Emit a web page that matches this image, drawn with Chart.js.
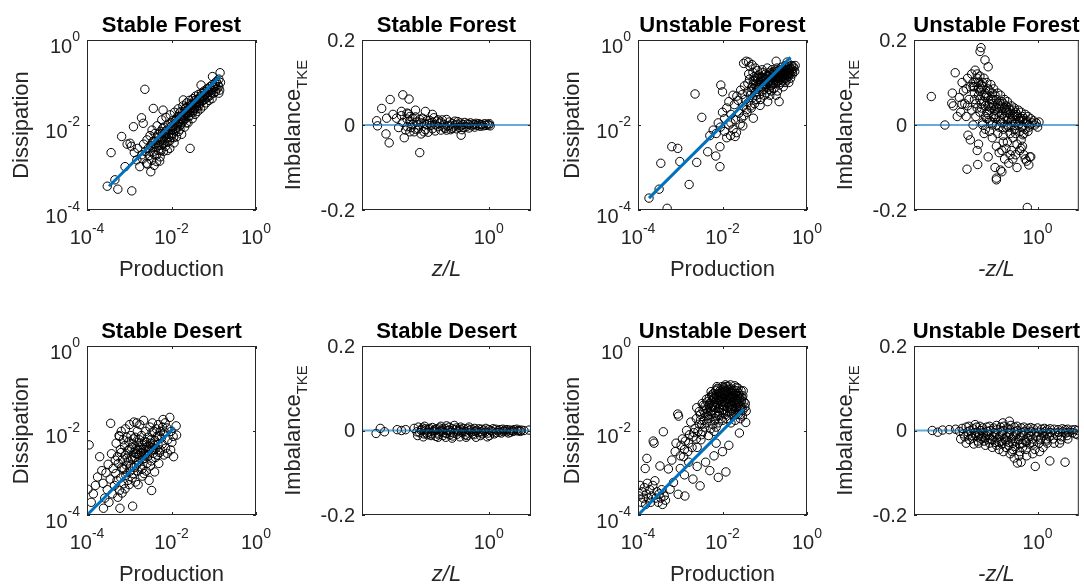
<!DOCTYPE html>
<html lang="en">
<head>
<meta charset="UTF-8">
<title>TKE production, dissipation and imbalance</title>
<script src="https://cdn.jsdelivr.net/npm/chart.js"></script>
<style>
  body { margin: 0; background: #fff; }
  #fig { position: relative; width: 1084px; height: 584px; overflow: hidden; background: #fff; }
  #fig canvas { position: absolute; left: 0; top: 0; }
</style>
</head>
<body>
<div id="fig"></div>
<script>
// ---- data (log10 values for the log axes) ----
const logTicks = [-4, -2, 0];          // 10^-4, 10^-2, 10^0
const prodRange = [-4, 0];             // log10 limits, Production / Dissipation
const zlRange = [-0.9, 0.3];           // log10 limits, z/L
const zlTicks = [0];                   // 10^0
const imbTicks = [-0.2, 0, 0.2];

// fit lines [log10 production, log10 dissipation] endpoints
const sfFit = [[-3.48, -3.44], [-0.85, -0.85]];
const ufFit = [[-3.74, -3.72], [-0.39, -0.41]];
const sdFit = [[-4.0, -4.0], [-1.93, -1.93]];
const udFit = [[-4.0, -4.0], [-1.5, -1.5]];

// Stable Forest: [log10 production, log10 dissipation]
const sfProdDiss = [
  [-3.52,-3.44],[-3.34,-3.29],[-3.27,-3.51],[-2.94,-3.55],[-3.43,-2.65],[-3.18,-2.27],[-2.90,-2.04],[-2.71,-1.83],
  [-2.67,-1.96],[-2.63,-1.16],[-2.43,-1.61],[-2.20,-1.65],[-1.72,-1.41],[-1.56,-2.55],[-1.30,-1.06],[-1.03,-0.86],
  [-0.85,-0.77],[-0.88,-1.10],[-0.88,-1.25],[-2.49,-3.10],[-3.10,-2.98],[-2.95,-2.50],[-2.80,-2.55],[-3.05,-2.45],
  [-2.98,-2.43],[-2.82,-2.82],[-2.75,-2.98],[-2.59,-2.90],[-2.35,-2.86],[-2.27,-2.75],[-2.88,-2.65],[-2.70,-2.70],
  [-2.68,-2.80],[-2.66,-2.45],[-2.62,-2.62],[-2.58,-2.35],[-2.57,-2.92],[-2.55,-2.55],[-2.53,-2.72],[-2.51,-2.25],
  [-2.49,-2.48],[-2.47,-2.83],[-2.46,-2.12],[-2.44,-2.63],[-2.42,-2.38],[-2.41,-2.95],[-2.39,-2.20],[-2.37,-2.52],
  [-2.36,-2.71],[-2.34,-2.02],[-2.33,-2.42],[-2.31,-2.60],[-2.29,-2.28],[-2.28,-2.85],[-2.26,-2.15],[-2.24,-2.48],
  [-2.23,-1.88],[-2.21,-2.36],[-2.19,-2.62],[-2.18,-2.05],[-2.16,-2.27],[-2.14,-2.50],[-2.13,-1.82],[-2.11,-2.18],
  [-2.09,-2.40],[-2.08,-1.98],[-2.06,-2.12],[-2.04,-2.55],[-2.03,-1.76],[-2.01,-2.30],[-1.99,-2.02],[-1.98,-1.90],
  [-1.96,-2.20],[-1.94,-2.42],[-1.93,-1.70],[-1.91,-2.08],[-1.89,-1.86],[-1.88,-2.28],[-1.86,-1.95],[-1.84,-1.62],
  [-1.83,-2.15],[-1.81,-1.80],[-1.79,-2.00],[-1.78,-1.68],[-1.76,-2.22],[-1.74,-1.88],[-1.73,-1.55],[-1.71,-1.76],
  [-1.69,-2.05],[-1.68,-1.62],[-1.66,-1.85],[-1.64,-1.48],[-1.63,-1.70],[-1.61,-1.95],[-1.59,-1.58],[-1.58,-1.42],
  [-1.56,-1.78],[-1.54,-1.62],[-1.53,-1.50],[-1.51,-1.85],[-1.49,-1.38],[-1.48,-1.66],[-1.46,-1.52],[-1.44,-1.75],
  [-1.43,-1.32],[-1.41,-1.58],[-1.39,-1.45],[-1.38,-1.68],[-1.36,-1.28],[-1.34,-1.50],[-1.33,-1.38],[-1.31,-1.62],
  [-1.29,-1.25],[-1.28,-1.45],[-1.26,-1.33],[-1.24,-1.55],[-1.23,-1.20],[-1.21,-1.40],[-1.19,-1.28],[-1.18,-1.48],
  [-1.16,-1.15],[-1.14,-1.35],[-1.13,-1.24],[-1.11,-1.42],[-1.09,-1.10],[-1.08,-1.30],[-1.06,-1.18],[-1.04,-1.38],
  [-1.03,-1.05],[-1.01,-1.25],[-0.99,-1.12],[-0.97,-1.02],[-0.96,-1.22],[-0.94,-0.98],[-0.92,-1.15],[-0.90,-1.05],
  [-0.88,-0.92],[-0.86,-1.18],[-0.84,-1.00],
  [-2.27,-2.38],[-2.22,-2.20],[-2.17,-2.40],[-2.12,-2.30],[-2.07,-2.22],[-2.02,-2.10],[-1.97,-2.12],[-1.92,-1.98],
  [-1.87,-2.05],[-1.82,-1.92],[-1.77,-1.80],[-1.72,-1.90],[-1.67,-1.74],[-1.62,-1.66],[-1.57,-1.70],[-1.52,-1.58],
  [-1.47,-1.60],[-1.42,-1.48],[-1.37,-1.40],[-1.32,-1.42],[-1.27,-1.36],[-1.22,-1.30],[-1.17,-1.25],[-1.12,-1.20],
  [-2.50,-2.62],[-2.45,-2.40],[-2.40,-2.70],[-2.35,-2.30],[-2.30,-2.48],[-2.25,-2.60],[-2.20,-2.45],[-2.15,-2.15],
  [-2.10,-2.60],[-2.05,-2.38],[-2.00,-2.22],[-1.95,-2.30],[-1.90,-2.12],[-1.85,-1.80],[-1.80,-2.10],[-1.75,-1.95],
  [-1.70,-1.68],[-1.65,-1.95],[-1.60,-1.80],[-1.55,-1.55],[-1.50,-1.70],[-1.45,-1.42],[-1.40,-1.62],[-1.35,-1.55],
  [-2.32,-2.22],[-2.26,-2.32],[-2.21,-2.08],[-2.16,-2.20],[-2.11,-2.12],[-2.06,-2.28],[-2.01,-1.95],[-1.96,-2.05],
  [-1.91,-1.90],[-1.86,-2.00],[-1.81,-1.72],[-1.76,-1.85],[-1.71,-1.82],[-1.66,-1.60],[-1.61,-1.72],[-1.56,-1.62],
  [-1.51,-1.52],[-1.46,-1.62],[-1.41,-1.40],[-1.36,-1.45],[-1.31,-1.32],[-1.26,-1.42],[-1.21,-1.22],[-1.16,-1.32],
  [-1.11,-1.15],[-1.06,-1.24],[-1.01,-1.10],[-0.96,-1.08],[-2.38,-2.45],[-2.44,-2.52]
];

// Stable Forest: [log10 z/L, imbalance]
const sfImb = [
  [-0.796,0.010],[-0.79,-0.002],[-0.76,0.039],[-0.73,-0.021],[-0.707,-0.042],[-0.70,0.060],[-0.725,0.016],
  [-0.655,0.016],[-0.64,-0.006],[-0.61,0.071],[-0.566,0.061],[-0.60,-0.030],[-0.56,-0.016],[-0.49,-0.065],
  [-0.68,0.025],[-0.62,0.032],[-0.58,0.028],[-0.52,0.035],[-0.45,0.032],[-0.40,0.025],[-0.196,-0.024],
  [-0.62,0.022],[-0.61,0.006],[-0.59,-0.012],[-0.58,0.014],[-0.57,0.026],[-0.56,0.009],[-0.55,-0.006],[-0.54,0.001],
  [-0.53,-0.016],[-0.52,0.019],[-0.51,0.007],[-0.50,-0.009],[-0.49,0.013],[-0.48,-0.021],[-0.47,0.016],[-0.46,0.004],
  [-0.45,-0.011],[-0.44,0.001],[-0.43,-0.017],[-0.42,0.011],[-0.41,-0.001],[-0.40,-0.009],[-0.39,0.017],[-0.38,-0.014],
  [-0.37,0.009],[-0.36,-0.004],[-0.35,0.004],[-0.34,-0.012],[-0.33,0.012],[-0.32,0.001],[-0.31,-0.008],[-0.30,0.013],
  [-0.29,-0.003],[-0.28,0.007],[-0.27,-0.011],[-0.26,0.004],[-0.25,-0.005],[-0.24,0.009],[-0.23,-0.009],[-0.22,0.002],
  [-0.21,-0.006],[-0.20,0.005],[-0.19,-0.011],[-0.18,0.001],[-0.17,0.006],[-0.16,-0.004],[-0.15,0.003],[-0.14,-0.007],
  [-0.13,0.005],[-0.12,-0.002],[-0.11,0.002],[-0.10,-0.005],[-0.09,0.004],[-0.08,-0.001],[-0.07,0.003],[-0.06,-0.003],
  [-0.05,0.001],[-0.04,-0.002],[-0.03,0.003],[-0.02,-0.001],[-0.01,0.002],[0.0,0.0],[0.01,-0.002],[0.005,0.003],
  [-0.58,-0.004],[-0.54,0.016],[-0.50,0.0],[-0.46,-0.016],[-0.42,0.004],[-0.38,0.001],[-0.34,0.007],[-0.30,-0.012],
  [-0.26,-0.008],[-0.22,0.008],[-0.18,-0.006],[-0.14,0.001],[-0.10,0.001],[-0.06,0.001],[-0.56,0.02],[-0.52,-0.01],
  [-0.48,0.005],[-0.44,0.01],[-0.40,0.007],[-0.36,0.012],[-0.32,-0.005],[-0.28,-0.001],[-0.24,0.0],[-0.20,-0.002]
];

// Unstable Forest: [log10 production, log10 dissipation]
const ufProdDiss = [
  [-3.74,-3.72],[-3.50,-3.51],[-3.31,-3.96],[-3.46,-2.90],[-3.20,-2.51],[-3.06,-2.55],[-3.01,-2.86],[-2.79,-3.40],
  [-2.61,-2.88],[-2.65,-1.27],[-2.49,-1.82],[-2.35,-2.63],[-2.16,-2.73],[-2.06,-2.51],[-2.06,-2.98],[-2.04,-1.06],
  [-2.0,-1.22],[-2.22,-2.12],[-1.70,-2.27],[-1.81,-2.25],[-1.27,-1.84],[-0.66,-1.45],
  [-1.9,-1.6],[-1.85,-2.0],[-1.95,-1.85],[-1.8,-1.75],[-1.75,-2.1],[-2.1,-1.95],[-2.15,-2.2],[-1.9,-2.3],
  [-2.0,-1.7],[-1.85,-1.45],[-1.75,-1.3],[-1.8,-1.95],[-2.05,-2.05],[-1.95,-2.15],[-2.3,-2.25],
  [-1.72,-1.52],[-1.69,-1.88],[-1.67,-2.18],[-1.66,-1.32],[-1.63,-1.42],[-1.61,-1.72],[-1.58,-1.98],[-1.57,-1.18],
  [-1.55,-1.84],[-1.53,-1.28],[-1.51,-1.56],[-1.49,-1.78],[-1.48,-1.08],[-1.50,-0.55],[-1.52,-2.02],[-1.44,-0.50],
  [-1.46,-1.40],[-1.43,-1.64],[-1.41,-1.22],[-1.39,-1.47],[-1.42,-1.70],[-1.38,-0.80],[-1.40,-1.02],[-1.36,-0.92],
  [-1.34,-1.30],[-1.33,-1.55],[-1.35,-0.62],[-1.31,-1.12],[-1.29,-1.36],[-1.28,-0.76],[-1.32,-1.60],[-1.27,-0.96],
  [-1.26,-1.02],[-1.23,-1.24],[-1.24,-1.50],[-1.22,-0.66],[-1.25,-0.86],[-1.21,-0.90],[-1.18,-1.16],[-1.19,-1.40],
  [-1.17,-0.72],[-1.20,-1.30],[-1.16,-1.06],[-1.14,-0.82],[-1.13,-1.04],[-1.12,-1.28],[-1.15,-0.94],[-1.11,-1.54],
  [-1.09,-0.86],[-1.08,-1.00],[-1.07,-1.20],[-1.10,-1.40],[-1.06,-0.70],[-1.05,-1.10],[-1.04,-0.76],[-1.02,-0.94],
  [-1.03,-1.16],[-1.01,-1.30],[-1.00,-1.04],[-0.98,-0.80],[-0.99,-0.90],[-0.97,-1.10],[-0.96,-1.24],[-0.95,-1.00],
  [-0.94,-0.66],[-0.93,-1.45],[-0.92,-0.86],[-0.91,-1.00],[-0.90,-1.16],[-0.89,-0.76],[-0.88,-1.30],[-0.87,-0.80],
  [-0.86,-0.94],[-0.85,-1.06],[-0.84,-1.20],[-0.83,-0.70],[-0.82,-0.90],[-0.81,-0.76],[-0.80,-0.88],[-0.79,-1.00],
  [-0.78,-1.14],[-0.77,-0.84],[-0.76,-0.74],[-0.75,-0.92],[-0.74,-1.02],[-0.73,-1.30],[-0.72,-0.80],[-0.71,-0.66],
  [-0.70,-1.20],[-0.69,-0.72],[-0.68,-0.82],[-0.67,-0.96],[-0.66,-1.06],[-0.65,-0.86],[-0.64,-0.70],[-0.63,-0.88],
  [-0.62,-0.92],[-0.61,-1.00],[-0.60,-0.64],[-0.59,-0.76],[-0.58,-0.86],[-0.57,-0.96],[-0.56,-1.10],[-0.55,-0.70],
  [-0.54,-0.80],[-0.53,-0.90],[-0.52,-1.00],[-0.51,-0.60],[-0.50,-0.74],[-0.49,-0.84],[-0.48,-0.94],[-0.47,-0.52],
  [-0.46,-0.66],[-0.45,-0.76],[-0.44,-0.86],[-0.43,-1.00],[-0.42,-0.62],[-0.41,-0.70],[-0.40,-0.80],[-0.39,-0.90],
  [-0.37,-0.60],[-0.36,-0.70],[-0.34,-0.80],[-0.33,-0.62],[-0.31,-0.66],[-0.29,-0.74],[-0.28,-0.60],
  [-1.08,-0.90],[-1.02,-1.02],[-0.96,-0.92],[-0.90,-0.96],[-0.84,-0.88],[-0.78,-0.80],[-0.72,-0.88],[-0.66,-0.78],
  [-0.60,-0.82],[-0.54,-0.72],[-0.48,-0.70],[-0.42,-0.78],[-0.86,-1.08],[-0.80,-1.04],[-0.74,-0.96],[-0.68,-0.90],
  [-0.62,-0.78],[-0.56,-0.84],[-0.50,-0.90],[-0.44,-0.70],[-1.14,-1.12],[-1.20,-1.10],[-1.26,-1.14],[-1.32,-1.22],
  [-1.38,-0.52],[-1.30,-0.58],[-0.73,-0.50],
  [-1.05,-0.88],[-0.99,-1.06],[-0.93,-0.84],[-0.87,-1.02],[-0.81,-0.84],[-0.75,-0.86],[-0.69,-0.96],[-0.63,-0.74],
  [-0.57,-0.78],[-0.51,-0.80],[-0.45,-0.82],[-0.39,-0.66],[-1.11,-0.98],[-1.17,-0.88],[-1.23,-0.96],[-0.35,-0.74]
];

// Unstable Forest: [log10 -z/L, imbalance]
const ufImb = [
  [-0.774,0.067],[-0.675,0.0],[-0.60,0.123],[-0.621,0.075],[-0.625,0.051],[-0.614,0.045],[-0.585,0.02],[-0.55,0.049],
  [-0.507,-0.024],[-0.514,-0.104],[-0.436,-0.093],[-0.412,0.182],[-0.419,0.173],[-0.383,0.153],[-0.36,0.137],
  [-0.455,0.129],[-0.30,-0.129],[-0.27,-0.106],[-0.075,-0.194],[-0.057,-0.075],[-0.064,-0.094],[-0.107,-0.023],
  [-0.52,0.085],[-0.57,0.065],
  [-0.56,0.03],[-0.54,0.08],[-0.55,0.10],[-0.53,0.05],[-0.51,0.11],[-0.49,0.09],[-0.50,0.06],[-0.52,0.02],[-0.48,0.12],
  [-0.51,0.045],[-0.49,-0.035],[-0.47,0.10],[-0.46,0.075],[-0.48,0.035],[-0.47,0.0],[-0.44,0.12],[-0.45,0.10],
  [-0.43,0.085],[-0.46,0.06],[-0.44,0.04],[-0.45,0.02],[-0.44,-0.06],[-0.42,0.115],[-0.41,0.095],[-0.43,0.07],
  [-0.41,0.05],[-0.42,0.03],[-0.40,0.005],[-0.43,-0.045],[-0.39,0.11],[-0.40,0.09],[-0.38,0.075],[-0.39,0.055],
  [-0.41,0.04],[-0.38,0.02],[-0.40,0.0],[-0.39,-0.02],[-0.37,0.10],[-0.36,0.085],[-0.38,0.065],[-0.36,0.045],
  [-0.37,0.03],[-0.35,0.01],[-0.38,-0.01],[-0.36,-0.075],[-0.34,0.095],[-0.35,0.08],[-0.33,0.06],[-0.34,0.04],
  [-0.36,0.025],[-0.33,0.005],[-0.35,-0.015],[-0.32,0.085],[-0.31,0.07],[-0.33,0.05],[-0.31,0.035],[-0.32,0.02],
  [-0.30,0.0],[-0.33,-0.03],[-0.31,-0.10],[-0.29,0.075],[-0.30,0.06],[-0.28,0.045],[-0.29,0.03],[-0.31,0.015],
  [-0.28,-0.005],[-0.30,-0.05],[-0.30,-0.125],[-0.27,0.07],[-0.26,0.055],[-0.28,0.04],[-0.26,0.025],[-0.27,0.01],
  [-0.25,-0.01],[-0.28,-0.065],[-0.24,0.06],[-0.25,0.05],[-0.23,0.035],[-0.24,0.02],[-0.26,0.005],[-0.23,-0.005],
  [-0.25,-0.04],[-0.24,-0.08],[-0.26,-0.11],[-0.22,0.055],[-0.21,0.04],[-0.23,0.03],[-0.21,0.015],[-0.22,0.0],
  [-0.20,-0.02],[-0.23,-0.055],[-0.21,-0.09],[-0.19,0.045],[-0.20,0.035],[-0.18,0.02],[-0.19,0.01],[-0.21,-0.005],
  [-0.18,-0.03],[-0.20,-0.07],[-0.17,0.04],[-0.16,0.03],[-0.18,0.015],[-0.16,0.005],[-0.17,-0.01],[-0.15,-0.045],
  [-0.18,-0.08],[-0.14,0.035],[-0.15,0.025],[-0.13,0.01],[-0.14,0.0],[-0.16,-0.02],[-0.13,-0.06],[-0.15,-0.10],
  [-0.12,0.03],[-0.11,0.02],[-0.13,0.01],[-0.11,-0.005],[-0.12,-0.035],[-0.10,-0.07],[-0.09,0.025],[-0.10,0.015],
  [-0.08,0.005],[-0.09,-0.01],[-0.11,-0.05],[-0.07,0.02],[-0.08,0.01],[-0.06,0.0],[-0.07,-0.015],[-0.08,-0.085],
  [-0.05,0.015],[-0.04,0.005],[-0.06,-0.005],[-0.05,-0.075],[-0.03,0.01],[-0.02,0.0],[-0.01,0.005],[0.0,-0.005],
  [0.01,0.007],
  [-0.47,0.09],[-0.44,0.11],[-0.42,0.08],[-0.40,0.10],[-0.37,0.07],[-0.35,0.05],[-0.33,0.075],[-0.30,0.04],
  [-0.27,0.05],[-0.24,0.04],[-0.21,0.03],[-0.18,0.035],[-0.15,0.02],[-0.12,0.015],[-0.26,-0.06],[-0.22,-0.04],
  [-0.19,-0.06],[-0.16,-0.07],[-0.12,-0.055],[-0.09,-0.08],
  [-0.46,0.09],[-0.43,0.10],[-0.41,0.085],[-0.39,0.07],[-0.36,0.065],[-0.34,0.06],[-0.32,0.045],[-0.29,0.05],
  [-0.26,0.04],[-0.23,0.045],[-0.20,0.025],[-0.17,0.025],[-0.14,0.015],[-0.11,0.01],[-0.45,0.05],[-0.42,0.06],
  [-0.38,0.045],[-0.35,0.035],[-0.31,0.025],[-0.28,0.02],[-0.25,0.015],[-0.22,0.01],[-0.19,0.0],[-0.16,-0.01],
  [-0.13,-0.015],[-0.10,-0.02],[-0.37,0.015],[-0.33,0.0],[-0.29,-0.02],[-0.25,-0.025]
];

// Stable Desert: [log10 production, log10 dissipation]
const sdProdDiss = [
  [-3.95,-2.34],[-3.98,-3.39],[-3.9,-3.7],[-3.85,-3.5],[-3.8,-3.3],[-3.75,-3.1],[-3.7,-2.62],[-3.65,-2.95],
  [-3.62,-3.25],[-3.61,-3.84],[-3.58,-3.6],[-3.55,-3.0],[-3.52,-3.4],[-3.5,-2.8],[-3.48,-3.7],[-3.45,-3.15],
  [-3.44,-1.83],[-3.42,-2.55],[-3.4,-3.5],[-3.38,-2.9],[-3.35,-3.3],[-3.33,-2.7],[-3.23,-2.14],
  [-3.31,-2.30],[-3.28,-2.62],[-3.32,-3.02],[-3.29,-3.18],[-3.27,-3.58],[-3.24,-2.12],[-3.26,-2.78],[-3.23,-3.42],
  [-3.22,-3.84],[-3.21,-2.45],[-3.19,-2.52],[-3.18,-2.88],[-3.20,-3.12],[-3.17,-3.48],[-3.19,-2.02],[-3.14,-2.22],
  [-3.16,-2.68],[-3.13,-3.26],[-3.11,-2.36],[-3.09,-2.58],[-3.12,-2.92],[-3.08,-3.06],[-3.10,-3.38],[-3.09,-1.96],
  [-3.06,-2.16],[-3.04,-2.48],[-3.07,-2.82],[-3.03,-3.18],[-3.01,-2.26],[-2.99,-2.44],[-3.02,-2.72],[-2.98,-2.96],
  [-3.00,-3.28],[-2.99,-1.86],[-2.96,-2.12],[-2.94,-2.62],[-2.97,-2.84],[-2.93,-3.12],[-2.92,-3.79],[-2.91,-2.32],
  [-2.89,-2.52],[-2.92,-2.68],[-2.88,-2.88],[-2.90,-3.02],[-2.89,-1.80],[-2.86,-2.16],[-2.84,-2.42],[-2.87,-2.64],
  [-2.83,-2.82],[-2.85,-3.22],[-2.82,-1.82],[-2.81,-2.02],[-2.79,-2.28],[-2.82,-2.56],[-2.78,-2.74],[-2.80,-2.96],
  [-2.79,-3.28],[-2.76,-2.22],[-2.74,-2.46],[-2.77,-2.58],[-2.73,-2.86],[-2.75,-1.86],[-2.71,-2.12],[-2.69,-2.34],
  [-2.72,-2.52],[-2.68,-2.68],[-2.70,-2.92],[-2.69,-3.08],[-2.66,-1.76],[-2.64,-2.26],[-2.67,-2.44],[-2.63,-2.66],
  [-2.65,-3.02],[-2.61,-2.02],[-2.59,-2.28],[-2.62,-2.56],[-2.58,-2.78],[-2.60,-2.96],[-2.56,-2.16],[-2.54,-2.38],
  [-2.57,-2.62],[-2.53,-3.18],[-2.51,-1.92],[-2.49,-2.22],[-2.52,-2.44],[-2.48,-2.72],[-2.50,-2.84],[-2.47,-3.42],
  [-2.46,-2.04],[-2.44,-2.32],[-2.43,-2.54],[-2.45,-1.82],[-2.41,-2.02],[-2.39,-2.24],[-2.42,-2.46],[-2.38,-2.64],
  [-2.40,-2.98],[-2.36,-1.96],[-2.34,-2.14],[-2.37,-2.42],[-2.33,-2.58],[-2.31,-1.86],[-2.29,-2.12],[-2.32,-2.34],
  [-2.28,-2.52],[-2.30,-2.78],[-2.26,-2.02],[-2.24,-2.18],[-2.27,-2.46],[-2.21,-1.92],[-2.19,-2.08],[-2.22,-2.32],
  [-2.18,-2.58],[-2.20,-1.74],[-2.16,-2.04],[-2.14,-2.42],[-2.15,-1.82],[-2.11,-1.94],[-2.09,-2.22],[-2.10,-2.54],
  [-2.04,-1.69],[-2.01,-2.02],[-1.99,-2.28],[-2.02,-2.46],[-1.96,-2.14],[-1.95,-2.62],[-1.89,-1.89],[-1.88,-2.11],
  [-2.95,-2.40],[-2.85,-2.55],[-2.75,-2.35],[-2.65,-2.55],[-2.55,-2.50],[-2.45,-2.40],[-2.90,-2.20],[-2.80,-2.45],
  [-2.70,-2.60],[-2.60,-2.40],[-2.50,-2.30],[-2.40,-2.35],[-3.05,-2.65],[-3.15,-2.90]
];

// Stable Desert: [log10 z/L, imbalance]
const sdImb = [
  [-0.80,-0.007],[-0.77,0.005],[-0.74,-0.003],[-0.65,0.002],[-0.62,0.0],[-0.59,0.002],
  [-0.53,0.005],[-0.51,-0.003],[-0.50,0.008],[-0.49,-0.005],[-0.48,0.0],[-0.505,-0.012],[-0.47,0.006],[-0.46,-0.008],
  [-0.475,0.002],[-0.465,-0.015],[-0.45,0.004],[-0.44,-0.006],[-0.455,0.01],[-0.435,-0.01],[-0.42,0.005],[-0.43,-0.004],
  [-0.41,-0.012],[-0.425,0.002],[-0.40,0.007],[-0.39,-0.003],[-0.405,-0.008],[-0.385,0.0],[-0.37,0.004],[-0.36,-0.006],
  [-0.375,-0.014],[-0.35,0.006],[-0.345,-0.002],[-0.355,-0.01],[-0.34,0.01],[-0.33,0.003],[-0.32,-0.005],[-0.325,-0.012],
  [-0.31,0.005],[-0.30,-0.007],[-0.295,0.0],[-0.305,-0.016],[-0.28,0.008],[-0.27,-0.004],[-0.275,-0.01],[-0.26,0.004],
  [-0.25,-0.006],[-0.255,-0.013],[-0.245,0.012],[-0.23,0.006],[-0.22,-0.003],[-0.225,-0.009],[-0.215,0.0],[-0.20,0.003],
  [-0.19,-0.005],[-0.205,-0.015],[-0.18,0.005],[-0.17,-0.002],[-0.165,-0.01],[-0.15,0.004],[-0.145,-0.006],[-0.155,-0.012],
  [-0.14,0.008],[-0.12,0.003],[-0.125,-0.004],[-0.115,-0.008],[-0.10,0.005],[-0.095,-0.002],[-0.105,-0.01],[-0.09,-0.016],
  [-0.07,0.004],[-0.075,-0.005],[-0.05,0.003],[-0.055,-0.003],[-0.045,-0.008],[-0.02,0.005],[-0.025,-0.004],[0.0,0.002],
  [-0.005,-0.006],[0.005,-0.012],[0.03,0.004],[0.025,-0.003],[0.05,0.003],[0.055,-0.005],[0.08,0.002],[0.075,-0.004],
  [0.10,0.003],[0.105,-0.002],[0.13,0.002],[0.125,-0.003],[0.15,0.001],[0.155,-0.004],[0.18,0.002],[0.175,-0.002],
  [0.20,0.003],[0.205,-0.001],[0.23,0.001],[0.225,-0.002],[0.25,0.0],[0.286,0.001],
  [-0.44,0.001],[-0.38,0.003],[-0.33,-0.001],[-0.28,0.001],[-0.235,0.002],[-0.185,-0.001],[-0.135,0.001],
  [-0.085,0.0],[-0.035,0.001],[0.015,0.0],[0.065,0.0],[0.115,0.001],[0.165,0.0],[0.215,0.0],[-0.01,-0.015],[-0.06,-0.012],
  [-0.16,-0.016],[-0.26,-0.018],[-0.36,-0.016],[-0.2,0.008],[-0.3,0.011],[0.04,-0.008],[0.09,-0.006],[0.14,-0.006]
];

// Unstable Desert: [log10 production, log10 dissipation]
const udProdDiss = [
  [-3.98,-3.55],[-3.95,-3.3],[-3.92,-3.7],[-3.9,-3.45],[-3.88,-3.6],[-3.85,-3.35],[-3.83,-2.9],[-3.82,-3.75],
  [-3.8,-3.5],[-3.79,-2.66],[-3.78,-3.25],[-3.75,-3.6],[-3.72,-3.4],[-3.7,-3.7],[-3.68,-3.55],[-3.65,-3.3],
  [-3.64,-2.25],[-3.62,-2.3],[-3.6,-3.19],[-3.58,-3.6],[-3.55,-3.45],[-3.52,-3.7],[-3.5,-3.5],[-3.48,-2.84],
  [-3.46,-3.6],[-3.44,-3.4],[-3.42,-3.75],[-3.40,-2.03],[-3.38,-3.55],[-3.35,-3.65],
  [-3.28,-2.91],[-3.24,-3.39],[-3.16,-3.23],[-3.05,-3.51],[-2.89,-3.55],[-3.06,-1.61],[-3.04,-1.66],[-3.2,-2.7],
  [-3.12,-2.5],[-3.1,-2.3],[-3.0,-2.6],[-2.95,-2.2],[-2.9,-2.45],[-2.85,-2.0],[-2.8,-2.3],[-2.75,-1.8],
  [-2.7,-2.15],[-2.65,-1.95],[-2.6,-2.4],[-2.53,-3.31],[-2.55,-1.55],[-2.5,-2.1],[-3.0,-2.9],[-2.9,-3.05],
  [-2.8,-2.75],[-2.7,-3.15],[-2.6,-2.85],[-2.4,-2.75],[-2.3,-2.95],[-2.2,-2.6],[-2.10,-3.11],[-1.92,-2.98],
  [-2.0,-2.5],[-1.85,-2.35],[-2.15,-2.3],
  [-2.98,-2.35],[-2.88,-2.25],[-2.78,-2.1],[-2.68,-2.05],[-2.72,-2.4],[-2.62,-2.2],[-2.82,-2.5],[-2.92,-2.62],
  [-2.62,-1.72],[-2.58,-2.02],[-2.61,-1.46],[-2.52,-1.62],[-2.49,-1.86],[-2.51,-2.22],[-2.48,-1.36],[-2.46,-1.52],
  [-2.44,-1.76],[-2.47,-2.02],[-2.41,-1.42],[-2.39,-1.66],[-2.42,-1.92],[-2.38,-1.26],[-2.36,-1.32],[-2.34,-1.56],
  [-2.37,-1.82],[-2.33,-2.12],[-2.31,-1.22],[-2.29,-1.46],[-2.32,-1.72],[-2.28,-1.96],[-2.30,-1.36],[-2.26,-1.16],
  [-2.24,-1.42],[-2.27,-1.62],[-2.23,-1.86],[-2.21,-1.12],[-2.19,-1.32],[-2.22,-1.52],[-2.18,-1.76],[-2.20,-2.02],
  [-2.19,-1.22],[-2.16,-1.06],[-2.14,-1.26],[-2.17,-1.46],[-2.13,-1.66],[-2.15,-1.92],[-2.11,-1.02],[-2.09,-1.22],
  [-2.12,-1.36],[-2.08,-1.56],[-2.10,-1.82],[-2.09,-1.12],[-2.06,-1.06],[-2.04,-1.26],[-2.07,-1.46],[-2.03,-1.72],
  [-2.05,-1.16],[-2.01,-0.96],[-1.99,-1.12],[-2.02,-1.32],[-1.98,-1.52],[-2.00,-1.76],[-1.99,-1.22],[-1.96,-1.02],
  [-1.94,-1.22],[-1.97,-1.42],[-1.93,-1.62],[-1.95,-1.32],[-1.91,-0.96],[-1.89,-1.12],[-1.92,-1.26],[-1.88,-1.46],
  [-1.90,-1.72],[-1.89,-1.06],[-1.86,-1.02],[-1.84,-1.16],[-1.87,-1.36],[-1.83,-1.56],[-1.85,-1.26],[-1.81,-0.92],
  [-1.79,-1.12],[-1.82,-1.32],[-1.78,-1.52],[-1.80,-1.82],[-1.79,-1.22],[-1.76,-1.06],[-1.74,-1.22],[-1.77,-1.42],
  [-1.73,-1.62],[-1.71,-0.94],[-1.69,-1.16],[-1.72,-1.32],[-1.68,-1.52],[-1.70,-1.76],[-1.69,-1.12],[-1.66,-1.06],
  [-1.64,-1.26],[-1.67,-1.46],[-1.63,-1.62],[-1.61,-1.12],[-1.59,-1.32],[-1.62,-1.52],[-1.58,-1.72],[-1.60,-2.06],
  [-1.56,-1.06],[-1.54,-1.22],[-1.57,-1.42],[-1.53,-1.66],[-1.51,-1.06],[-1.49,-1.32],[-1.52,-1.52],[-1.46,-1.36],
  [-1.44,-1.54],[-1.45,-1.81],
  [-2.25,-1.30],[-2.20,-1.40],[-2.15,-1.15],[-2.10,-1.30],[-2.05,-1.40],[-2.00,-1.05],[-1.95,-1.15],[-1.90,-1.35],
  [-1.85,-1.10],[-1.80,-1.02],[-1.75,-1.30],[-1.70,-1.40],[-1.65,-1.18],[-1.60,-1.25],[-1.55,-1.30],[-2.18,-1.60],
  [-2.08,-1.65],[-1.98,-1.60],[-1.88,-1.56],[-1.78,-1.62],[-1.68,-1.62],[-1.58,-1.50],[-2.28,-1.55],[-2.38,-1.50],
  [-2.12,-1.00],[-2.02,-1.20],[-1.92,-1.05],[-1.82,-1.25],[-1.72,-1.05],[-1.62,-1.40],[-1.97,-0.98],[-1.87,-0.95],
  [-1.77,-1.18],[-1.67,-1.28],[-2.32,-1.40],[-2.22,-1.25],[-2.42,-1.60],[-2.52,-1.75],[-1.52,-1.18],[-1.47,-1.45],
  [-2.24,-1.20],[-2.19,-1.45],[-2.14,-1.35],[-2.09,-1.48],[-2.04,-1.10],[-1.99,-1.38],[-1.94,-1.08],[-1.89,-1.30],
  [-1.84,-1.42],[-1.79,-1.38],[-1.74,-1.12],[-1.69,-1.26],[-1.64,-1.36],[-1.59,-1.18],[-1.54,-1.45],[-2.17,-1.72],
  [-2.07,-1.28],[-1.97,-1.50],[-1.87,-1.20],[-1.77,-1.48],[-1.67,-0.98],[-1.57,-1.62],[-2.27,-1.08],[-2.35,-1.65],
  [-2.45,-1.40],[-2.55,-1.85],[-2.13,-0.96],[-1.93,-0.92],[-1.73,-1.56],[-1.63,-1.00]
];

// Unstable Desert: [log10 -z/L, imbalance]
const udImb = [
  [-0.767,0.0],[-0.727,-0.004],[-0.692,0.001],[-0.644,0.002],[-0.597,0.003],[-0.57,-0.002],
  [-0.55,0.005],[-0.54,-0.008],[-0.56,-0.02],[-0.52,0.008],[-0.51,-0.003],[-0.53,-0.015],[-0.52,-0.03],
  [-0.50,0.01],[-0.49,0.0],[-0.505,-0.01],[-0.495,-0.022],[-0.47,0.004],[-0.46,-0.006],[-0.475,-0.018],[-0.465,-0.032],
  [-0.455,0.014],[-0.445,0.008],[-0.44,-0.004],[-0.45,-0.012],[-0.435,-0.025],[-0.42,0.01],[-0.415,0.0],
  [-0.425,-0.008],[-0.41,-0.02],[-0.43,-0.03],[-0.40,0.006],[-0.395,-0.005],[-0.405,-0.015],[-0.39,-0.025],
  [-0.37,0.008],[-0.365,-0.002],[-0.375,-0.012],[-0.36,-0.022],[-0.38,-0.035],[-0.35,0.01],[-0.345,0.0],
  [-0.355,-0.01],[-0.34,-0.02],[-0.35,-0.03],[-0.32,0.006],[-0.315,-0.005],[-0.325,-0.015],[-0.31,-0.028],
  [-0.33,-0.04],[-0.30,0.012],[-0.295,0.002],[-0.305,-0.008],[-0.29,-0.02],[-0.30,-0.035],[-0.27,0.008],
  [-0.265,-0.003],[-0.275,-0.013],[-0.26,-0.025],[-0.28,-0.045],[-0.253,0.018],[-0.245,0.01],[-0.25,0.0],
  [-0.255,-0.01],[-0.24,-0.02],[-0.26,-0.032],[-0.25,-0.05],[-0.22,0.006],[-0.215,-0.005],[-0.225,-0.015],
  [-0.21,-0.028],[-0.23,-0.04],[-0.206,0.022],[-0.195,0.012],[-0.2,0.002],[-0.205,-0.008],[-0.19,-0.02],
  [-0.21,-0.035],[-0.2,-0.055],[-0.17,0.008],[-0.165,-0.003],[-0.175,-0.013],[-0.16,-0.025],[-0.18,-0.045],
  [-0.17,-0.065],[-0.15,0.01],[-0.145,0.0],[-0.155,-0.01],[-0.14,-0.022],[-0.16,-0.038],[-0.147,-0.077],
  [-0.12,0.006],[-0.115,-0.005],[-0.125,-0.015],[-0.11,-0.03],[-0.13,-0.05],[-0.12,-0.075],[-0.1,0.008],
  [-0.095,-0.002],[-0.105,-0.012],[-0.09,-0.025],[-0.11,-0.04],[-0.07,0.005],[-0.065,-0.005],[-0.075,-0.018],
  [-0.06,-0.032],[-0.08,-0.06],[-0.05,0.007],[-0.045,-0.003],[-0.055,-0.014],[-0.04,-0.028],[-0.03,0.004],
  [-0.025,-0.006],[-0.035,-0.02],[-0.02,-0.045],[-0.017,-0.085],[0.0,0.006],[0.005,-0.004],[-0.005,-0.015],
  [0.01,-0.03],[0.03,0.003],[0.035,-0.006],[0.025,-0.018],[0.04,-0.04],[0.05,0.005],[0.055,-0.003],[0.045,-0.012],
  [0.06,-0.025],[0.07,0.002],[0.075,-0.008],[0.065,-0.02],[0.09,0.004],[0.095,-0.005],[0.085,-0.015],[0.089,-0.072],
  [0.12,0.003],[0.125,-0.006],[0.115,-0.02],[0.15,0.002],[0.155,-0.004],[0.145,-0.012],[0.16,-0.03],[0.18,0.004],
  [0.185,-0.003],[0.175,-0.015],[0.2,0.002],[0.205,-0.006],[0.2,-0.075],[0.22,0.003],[0.225,-0.004],[0.215,-0.012],
  [0.25,0.001],[0.255,-0.005],[0.27,0.002],[0.275,-0.008],[0.29,0.0],[0.29,-0.01],
  [-0.48,-0.012],[-0.43,-0.015],[-0.38,-0.018],[-0.33,-0.022],[-0.28,-0.028],[-0.23,-0.025],[-0.18,-0.03],
  [-0.13,-0.032],[-0.08,-0.028],[-0.03,-0.032],[0.02,-0.022],[0.07,-0.03],[0.12,-0.03],[0.17,-0.022],[0.22,-0.02],
  [-0.185,-0.05],[-0.135,-0.06],[-0.085,-0.045],[-0.035,-0.055],[0.015,-0.05]
];

// ---- layout / style ----
const W = 1084, H = 584;
const boxLeft = [87, 362, 638, 914];
const boxTop = [40, 346];
const boxW = 169, boxH = 170;
const FONT = '"Liberation Sans", Arial, Helvetica, sans-serif';
const AX = '#262626';
const BLUE = '#0072BD';
const TICK_PX = 20, SUP_PX = 14, LABEL_PX = 22, TITLE_PX = 22;

const panels = [
  { kind: 'pd',  col: 0, row: 0, title: 'Stable Forest',   pts: sfProdDiss, fit: sfFit },
  { kind: 'imb', col: 1, row: 0, title: 'Stable Forest',   pts: sfImb, xlabel: 'z/L' },
  { kind: 'pd',  col: 2, row: 0, title: 'Unstable Forest', pts: ufProdDiss, fit: ufFit },
  { kind: 'imb', col: 3, row: 0, title: 'Unstable Forest', pts: ufImb, xlabel: '-z/L' },
  { kind: 'pd',  col: 0, row: 1, title: 'Stable Desert',   pts: sdProdDiss, fit: sdFit },
  { kind: 'imb', col: 1, row: 1, title: 'Stable Desert',   pts: sdImb, xlabel: 'z/L' },
  { kind: 'pd',  col: 2, row: 1, title: 'Unstable Desert', pts: udProdDiss, fit: udFit },
  { kind: 'imb', col: 3, row: 1, title: 'Unstable Desert', pts: udImb, xlabel: '-z/L' }
];

// draws 10^exp, y is the baseline of "10"
function drawPow(ctx, exp, x, y, align) {
  ctx.font = TICK_PX + 'px ' + FONT;
  const w1 = ctx.measureText('10').width;
  ctx.font = SUP_PX + 'px ' + FONT;
  const w2 = ctx.measureText(String(exp)).width;
  const x0 = align === 'right' ? x - w1 - w2 : x - (w1 + w2) / 2;
  ctx.textAlign = 'left';
  ctx.textBaseline = 'alphabetic';
  ctx.font = TICK_PX + 'px ' + FONT;
  ctx.fillText('10', x0, y);
  ctx.font = SUP_PX + 'px ' + FONT;
  ctx.fillText(String(exp), x0 + w1, y - 11.5);
}

function line(ctx, x1, y1, x2, y2) {
  ctx.beginPath(); ctx.moveTo(x1, y1); ctx.lineTo(x2, y2); ctx.stroke();
}

const matlabAxes = p => ({
  id: 'matlabAxes',
  afterDatasetsDraw(chart) {
    const { ctx, chartArea: a, scales: { x, y } } = chart;
    const isPD = p.kind === 'pd';
    const xt = isPD ? logTicks : zlTicks;
    const yt = isPD ? logTicks : imbTicks;
    const yval = v => isPD ? Math.pow(10, v) : v;
    const TL = 3;
    ctx.save();
    ctx.strokeStyle = AX;
    ctx.lineWidth = 1;
    ctx.strokeRect(a.left + 0.5, a.top + 0.5, a.right - a.left - 1, a.bottom - a.top - 1);
    xt.forEach(v => {
      const px = Math.round(x.getPixelForValue(Math.pow(10, v))) + 0.5;
      line(ctx, px, a.bottom, px, a.bottom - TL);
      line(ctx, px, a.top, px, a.top + TL);
    });
    yt.forEach(v => {
      const py = Math.round(y.getPixelForValue(yval(v))) + 0.5;
      line(ctx, a.left, py, a.left + TL, py);
      line(ctx, a.right, py, a.right - TL, py);
    });

    // tick labels
    ctx.fillStyle = AX;
    xt.forEach(v => drawPow(ctx, v, x.getPixelForValue(Math.pow(10, v)), a.bottom + 34, 'center'));
    if (isPD) {
      yt.forEach(v => drawPow(ctx, v, a.left - 7, y.getPixelForValue(Math.pow(10, v)) + 12.5, 'right'));
    } else {
      ctx.font = TICK_PX + 'px ' + FONT;
      ctx.textAlign = 'right';
      ctx.textBaseline = 'middle';
      yt.forEach(v => ctx.fillText(String(v), a.left - 7, y.getPixelForValue(v) + 1));
    }

    const cx = (a.left + a.right) / 2, cy = (a.top + a.bottom) / 2;
    // x label
    ctx.textAlign = 'center';
    ctx.textBaseline = 'alphabetic';
    ctx.font = (isPD ? '' : 'italic ') + LABEL_PX + 'px ' + FONT;
    ctx.fillText(isPD ? 'Production' : p.xlabel, cx, a.bottom + 66);

    // y label
    ctx.save();
    if (isPD) {
      ctx.translate(a.left - 59, cy);
      ctx.rotate(-Math.PI / 2);
      ctx.font = LABEL_PX + 'px ' + FONT;
      ctx.fillText('Dissipation', 0, 0);
    } else {
      ctx.translate(a.left - 62, cy);
      ctx.rotate(-Math.PI / 2);
      ctx.font = LABEL_PX + 'px ' + FONT;
      const w1 = ctx.measureText('Imbalance').width;
      ctx.font = '15px ' + FONT;
      const w2 = ctx.measureText('TKE').width;
      const x0 = -(w1 + w2) / 2;
      ctx.textAlign = 'left';
      ctx.font = LABEL_PX + 'px ' + FONT;
      ctx.fillText('Imbalance', x0, 0);
      ctx.font = '15px ' + FONT;
      ctx.fillText('TKE', x0 + w1, 7);
    }
    ctx.restore();

    // title
    ctx.fillStyle = '#000';
    ctx.textAlign = 'center';
    ctx.textBaseline = 'alphabetic';
    ctx.font = 'bold ' + TITLE_PX + 'px ' + FONT;
    ctx.fillText(p.title, cx, a.top - 8);
    ctx.restore();
  }
});

const fig = document.getElementById('fig');

panels.forEach(p => {
  const cv = document.createElement('canvas');
  cv.width = W; cv.height = H;
  cv.style.width = W + 'px'; cv.style.height = H + 'px';
  fig.appendChild(cv);

  const left = boxLeft[p.col], top = boxTop[p.row];
  const h = p.row === 0 ? boxH : boxH - 1;
  const isPD = p.kind === 'pd';

  const scatter = {
    type: 'scatter',
    order: 1,
    data: p.pts.map(([a, b]) => ({ x: Math.pow(10, a), y: isPD ? Math.pow(10, b) : b })),
    pointStyle: 'circle',
    pointRadius: 4.2,
    pointBorderWidth: 1,
    pointBorderColor: '#000',
    pointBackgroundColor: 'rgba(0,0,0,0)'
  };
  const ref = isPD ? {
    type: 'line',
    order: 0,
    data: p.fit.map(([a, b]) => ({ x: Math.pow(10, a), y: Math.pow(10, b) })),
    borderColor: BLUE,
    borderWidth: 3,
    pointRadius: 0,
    fill: false
  } : {
    type: 'line',
    order: 0,
    data: zlRange.map(a => ({ x: Math.pow(10, a), y: 0 })),
    borderColor: 'rgba(0,114,189,0.6)',
    borderWidth: 2,
    pointRadius: 0,
    fill: false
  };

  new Chart(cv, {
    type: 'scatter',
    data: { datasets: [ref, scatter] },
    options: {
      responsive: false,
      animation: false,
      devicePixelRatio: 1,
      events: [],
      layout: { padding: { left: left, top: top, right: W - left - boxW, bottom: H - top - h } },
      plugins: { legend: { display: false }, tooltip: { enabled: false } },
      scales: {
        x: {
          type: 'logarithmic',
          display: false,
          min: Math.pow(10, isPD ? prodRange[0] : zlRange[0]),
          max: Math.pow(10, isPD ? prodRange[1] : zlRange[1])
        },
        y: isPD ? {
          type: 'logarithmic', display: false,
          min: Math.pow(10, prodRange[0]), max: Math.pow(10, prodRange[1])
        } : {
          type: 'linear', display: false,
          min: imbTicks[0], max: imbTicks[imbTicks.length - 1]
        }
      }
    },
    plugins: [matlabAxes(p)]
  });
});
</script>
</body>
</html>
